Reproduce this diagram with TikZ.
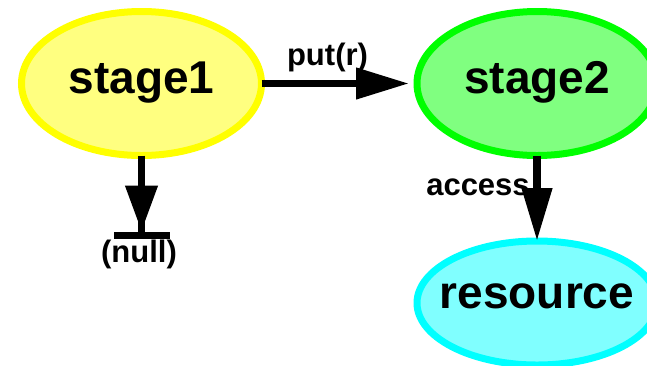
\documentclass[tikz,border=0pt]{standalone}
\usepackage{fontspec}
\setmainfont{Liberation Sans}
\usetikzlibrary{shapes.geometric,arrows.meta}
\begin{document}
\begin{tikzpicture}[x=1pt,y=-1pt,
  ellbox/.style={ellipse, draw, line width=7pt, inner sep=0pt, outer sep=0pt,
    minimum width=240pt, minimum height=144pt,
    font=\fontsize{46}{50}\selectfont\bfseries, text height=19pt, text depth=0pt},
  lbl/.style={font=\fontsize{31}{36}\selectfont\bfseries, inner sep=0pt, anchor=base},
  edge/.style={draw=black, line width=7.5pt},
]
\useasboundingbox (0,0) rectangle (647,365);
\node[ellbox, draw={rgb,255:red,255;green,255;blue,0}, fill={rgb,255:red,255;green,255;blue,128}] (stage1) at (141.5,83.5) {\makebox[0pt]{stage1}};
\node[ellbox, draw={rgb,255:red,0;green,255;blue,0}, fill={rgb,255:red,128;green,255;blue,128}] (stage2) at (537,83.5) {\makebox[0pt]{stage2}};
\node[ellbox, minimum height=124pt, text height=10pt, draw={rgb,255:red,0;green,255;blue,255}, fill={rgb,255:red,128;green,255;blue,255}] (resource) at (537,303) {\makebox[0pt]{resource}};
\node[lbl] (putr) at (327.5,65) {put(r)};
\node[lbl] (access) at (478,195) {access};
\node[lbl] (null) at (139,262) {(null)};
\coordinate (nullend) at (141.5,239);
\draw[edge, -{Triangle[length=53pt,width=30pt]}, shorten >=8pt] (stage1) -- (stage2);
\draw[edge, -{Triangle[length=46pt,width=31pt]Bar[width=56pt]}] (stage1.south) -- (nullend);
\draw[edge, -{Triangle[length=53pt,width=29pt]}] (stage2.south) -- (resource.north);
\end{tikzpicture}
\end{document}
